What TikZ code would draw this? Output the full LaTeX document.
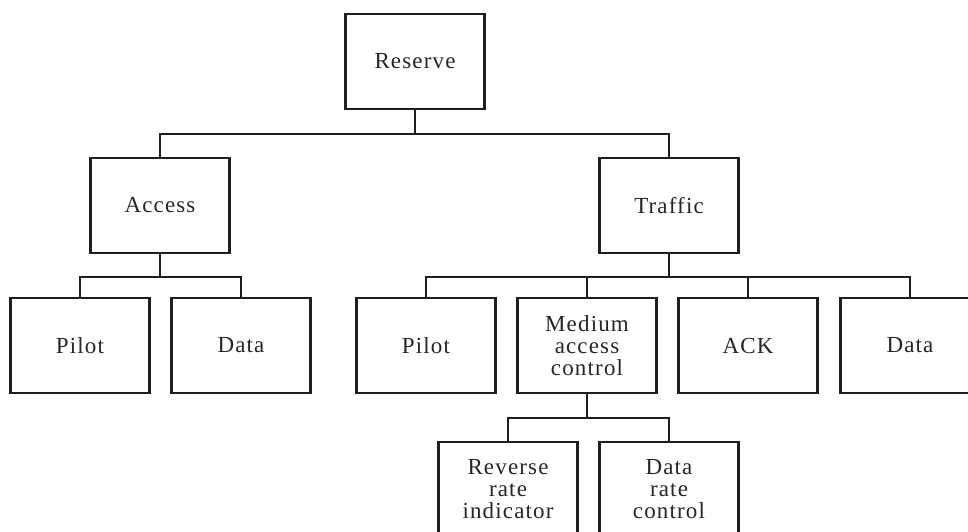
\documentclass[tikz,border=0pt]{standalone}
\usepackage{fontspec}
\setmainfont[LetterSpace=5]{Liberation Serif}
\begin{document}
\begin{tikzpicture}[x=1pt,y=-1pt,
  box/.style={draw=black!88, line width=2.1pt, minimum width=139pt, minimum height=95pt,
    inner sep=0pt, outer sep=0pt, align=center, font=\fontsize{23}{22}\selectfont, text=black!85},
  wire/.style={draw=black!88, line width=2.1pt}]
\useasboundingbox (0,0) rectangle (968,532);
\clip (0,0) rectangle (968,532);
\node[box] (reserve) at (415,61.5) {Reserve};
\node[box] (access) at (160,205.5) {Access};
\node[box] (traffic) at (669,205.5) {Traffic};
\node[box] (pilotA) at (80,345.5) {Pilot};
\node[box] (dataA) at (241,345.5) {Data};
\node[box] (pilotT) at (426,345.5) {Pilot};
\node[box] (mac) at (587,345.5) {Medium\\access\\control};
\node[box] (ack) at (748,345.5) {ACK};
\node[box] (dataT) at (910,345.5) {Data};
\node[box] (rri) at (508,489.5) {Reverse\\rate\\indicator};
\node[box] (drc) at (669,489.5) {Data\\rate\\control};
% connectors
\draw[wire] (reserve.south) -- ++(0,25);
\draw[wire] (access.north) -- ++(0,-24) -| (traffic.north);
\draw[wire] (access.south) -- ++(0,24);
\draw[wire] (pilotA.north) -- ++(0,-21) -| (dataA.north);
\draw[wire] (traffic.south) -- ++(0,24);
\draw[wire] (pilotT.north) -- ++(0,-21) -| (dataT.north);
\draw[wire] (mac.north) -- ++(0,-21);
\draw[wire] (ack.north) -- ++(0,-21);
\draw[wire] (mac.south) -- ++(0,25);
\draw[wire] (rri.north) -- ++(0,-24) -| (drc.north);
\end{tikzpicture}
\end{document}
